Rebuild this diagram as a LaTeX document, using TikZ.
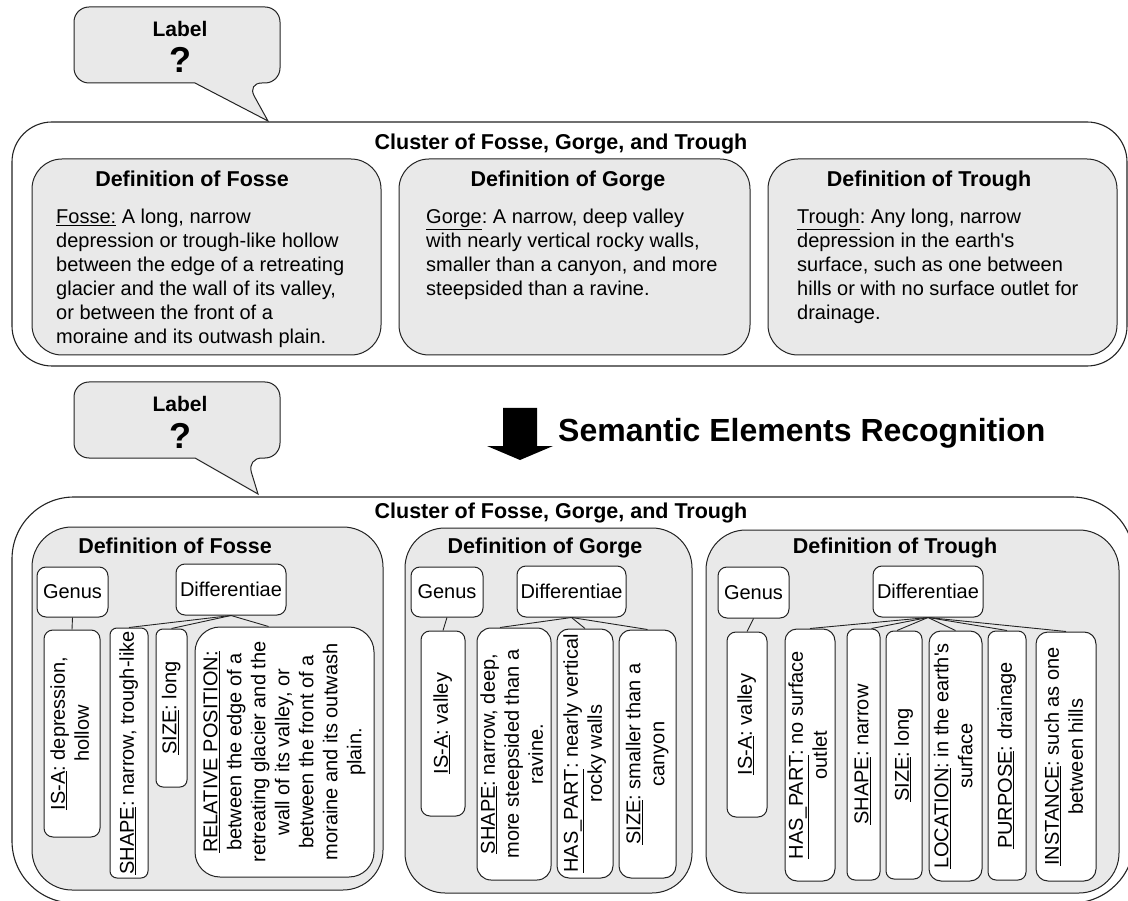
\documentclass[tikz,border=0pt]{standalone}
\usepackage{fontspec}
\setmainfont{Liberation Sans}
\usepackage{graphicx}
\usetikzlibrary{calc}
\frenchspacing
\definecolor{boxgray}{RGB}{233,233,233}
\definecolor{linec}{RGB}{35,35,35}
\newcommand\rtext[1]{\rotatebox{90}{\begin{tabular}{@{}c@{}}#1\end{tabular}}}
\newcommand\myul[1]{\underline{#1}}
\newcommand\mybox[7]{\node[#2, minimum width={(#5-#3)*1pt}, minimum height={(#6-#4)*1pt}] (#1) at ({(#3+#5)/2},{(#4+#6)/2}) {#7};}
\tikzset{
  cluster/.style={draw=linec, line width=1.1pt, fill=white, inner sep=0pt},
  defbox/.style={draw=linec, line width=1pt, fill=boxgray, inner sep=0pt},
  ibox/.style={draw=linec, line width=1pt, fill=white, rounded corners=9pt, inner sep=0pt, font=\fontsize{20}{24}\selectfont\frenchspacing, align=center},
  bigtitle/.style={anchor=base, inner sep=0pt, font=\fontsize{21.5}{26}\selectfont\bfseries},
  bodytext/.style={anchor=north west, inner sep=0pt, align=left, font=\fontsize{20}{24}\selectfont\frenchspacing},
  conn/.style={draw=linec, line width=0.9pt},
  callout/.style={draw=linec, line width=1pt, fill=boxgray},
  lbltext/.style={anchor=base, inner sep=0pt, font=\fontsize{21}{24}\selectfont\bfseries},
  qtext/.style={anchor=base, inner sep=0pt, font=\fontsize{36}{40}\selectfont\bfseries},
}
\begin{document}
\begin{tikzpicture}[x=1pt,y=-1pt]
\useasboundingbox (0,0) rectangle (1128,901);
\clip (0,0) rectangle (1128,901);

% ---------- top callout ----------
\path[callout] (195,83) [rounded corners=15pt] -- (74,83) -- (74,7) -- (280,7) -- (280,83) -- (247,83) [sharp corners] -- (268,121) -- cycle;
\node[lbltext] (la1) at (180,37) {Label};
\node[qtext] (q1) at (180,73) {?};

% ---------- top cluster ----------
\mybox{c1}{cluster, rounded corners=40pt}{12}{122}{1127}{366}{}
\node[bigtitle] (ct1) at (561,150) {Cluster of Fosse, Gorge, and Trough};

\mybox{d1}{defbox, rounded corners=30pt}{32}{159}{381}{355}{}
\mybox{d2}{defbox, rounded corners=30pt}{399}{159}{750}{355}{}
\mybox{d3}{defbox, rounded corners=30pt}{768}{159}{1117}{355}{}
\node[bigtitle] (dt1) at (192,187) {Definition of Fosse};
\node[bigtitle] (dt2) at (568,187) {Definition of Gorge};
\node[bigtitle] (dt3) at (929,187) {Definition of Trough};

\node[bodytext] (t1) at (56,206.2) {\strut\myul{Fosse:} A long, narrow\\depression or trough-like hollow\\between the edge of a retreating\\glacier and the wall of its valley,\\or between the front of a\\moraine and its outwash plain.};
\node[bodytext] (t2) at (426,206.2) {\strut\myul{Gorge}: A narrow, deep valley\\with nearly vertical rocky walls,\\smaller than a canyon, and more\\steepsided than a ravine.};
\node[bodytext] (t3) at (797,206.2) {\strut\myul{Trough}: Any long, narrow\\depression in the earth\textquotesingle s\\surface, such as one between\\hills or with no surface outlet for\\drainage.};

% ---------- arrow and caption ----------
\path[fill=black] (503,408) -- (537,408) -- (537,446) -- (553,446) -- (520,460) -- (487,446) -- (503,446) -- cycle;
\node[anchor=base west, inner sep=0pt, font=\fontsize{32}{36}\selectfont\bfseries] (sem) at (558,442) {Semantic Elements Recognition};

% ---------- bottom callout ----------
\path[callout] (195,458) [rounded corners=15pt] -- (74,458) -- (74,382) -- (280,382) -- (280,458) -- (247,458) [sharp corners] -- (258,494) -- cycle;
\node[lbltext] (la2) at (180,412) {Label};
\node[qtext] (q2) at (180,448) {?};

% ---------- bottom cluster ----------
\mybox{c2}{cluster, rounded corners=62pt}{12}{497}{1134}{903}{}
\node[bigtitle] (ct2) at (561,518) {Cluster of Fosse, Gorge, and Trough};

\mybox{e1}{defbox, rounded corners=40pt}{32}{527}{383}{890}{}
\mybox{e2}{defbox, rounded corners=40pt}{405}{528}{692}{893}{}
\mybox{e3}{defbox, rounded corners=40pt}{706}{530}{1119}{893}{}
\node[bigtitle] (et1) at (175,553) {Definition of Fosse};
\node[bigtitle] (et2) at (545,553) {Definition of Gorge};
\node[bigtitle] (et3) at (895,553) {Definition of Trough};

% Fosse
\mybox{fg}{ibox}{37}{567}{108}{617}{Genus}
\mybox{fd}{ibox}{176}{564}{286}{615}{Differentiae}
\mybox{fi}{ibox}{44}{630}{100}{837}{\rtext{\myul{IS-A}: depression,\\hollow}}
\mybox{fs}{ibox, rounded corners=7pt}{110}{628}{148}{878}{\rtext{\myul{SHAPE}: narrow, trough-like}}
\mybox{fz}{ibox, rounded corners=7pt}{156}{629}{187}{787}{\rtext{\myul{SIZE}: long}}
\mybox{fr}{ibox, rounded corners=25pt}{195}{627}{374}{877}{\rtext{\myul{RELATIVE POSITION:}\\between the edge of a\\retreating glacier and the\\wall of its valley, or\\between the front of a\\moraine and its outwash\\plain.}}
\draw[conn] (fg.south) -- (fi.north);
\draw[conn] (fd.south) -- (fs.north);
\draw[conn] (fd.south) -- (fz.north);
\draw[conn] (fd.south) -- ($(fr.north)+(-16,0)$);

% Gorge
\mybox{gg}{ibox}{411}{567}{483}{617}{Genus}
\mybox{gd}{ibox}{517}{566}{626}{617}{Differentiae}
\mybox{gi}{ibox}{421}{631}{465}{816}{\rtext{\myul{IS-A}: valley}}
\mybox{gs}{ibox, rounded corners=14pt}{477}{628}{551}{880}{\rtext{\myul{SHAPE}: narrow, deep,\\more steepsided than a\\ravine.}}
\mybox{gh}{ibox, rounded corners=12pt}{557}{629}{613}{878}{\rtext{\myul{HAS\_PART}: nearly vertical\\rocky walls}}
\mybox{gz}{ibox, rounded corners=12pt}{619}{630}{676}{878}{\rtext{\myul{SIZE}: smaller than a\\canyon}}
\draw[conn] (gg.south) -- (gi.north);
\draw[conn] (gd.south) -- ($(gs.north)+(-14,0)$);
\draw[conn] (gd.south) -- (gh.north);
\draw[conn] (gd.south) -- (gz.north);

% Trough
\mybox{tg}{ibox}{718}{567}{789}{618}{Genus}
\mybox{td}{ibox}{873}{566}{983}{617}{Differentiae}
\mybox{ti}{ibox}{727}{632}{767}{817}{\rtext{\myul{IS-A}: valley}}
\mybox{th}{ibox, rounded corners=12pt}{785}{629}{835}{881}{\rtext{\myul{HAS\_PART}: no surface\\outlet}}
\mybox{ts}{ibox, rounded corners=8pt}{847}{629}{880}{880}{\rtext{\myul{SHAPE}: narrow}}
\mybox{tz}{ibox, rounded corners=8pt}{886}{631}{922}{879}{\rtext{\myul{SIZE}: long}}
\mybox{tl}{ibox, rounded corners=12pt}{929}{631}{982}{881}{\rtext{\myul{LOCATION}: in the earth\textquotesingle s\\surface}}
\mybox{tp}{ibox, rounded corners=8pt}{988}{631}{1026}{880}{\rtext{\myul{PURPOSE}: drainage}}
\mybox{tn}{ibox, rounded corners=12pt}{1036}{632}{1096}{881}{\rtext{\myul{INSTANCE}: such as one\\between hills}}
\draw[conn] (tg.south) -- (ti.north);
\draw[conn] (td.south) -- (th.north);
\draw[conn] (td.south) -- ($(ts.north)+(8,0)$);
\draw[conn] (td.south) -- ($(tz.north)+(-7,0)$);
\draw[conn] (td.south) -- (tl.north);
\draw[conn] (td.south) -- (tp.north);
\draw[conn] (td.south) -- (tn.north);
\end{tikzpicture}
\end{document}
